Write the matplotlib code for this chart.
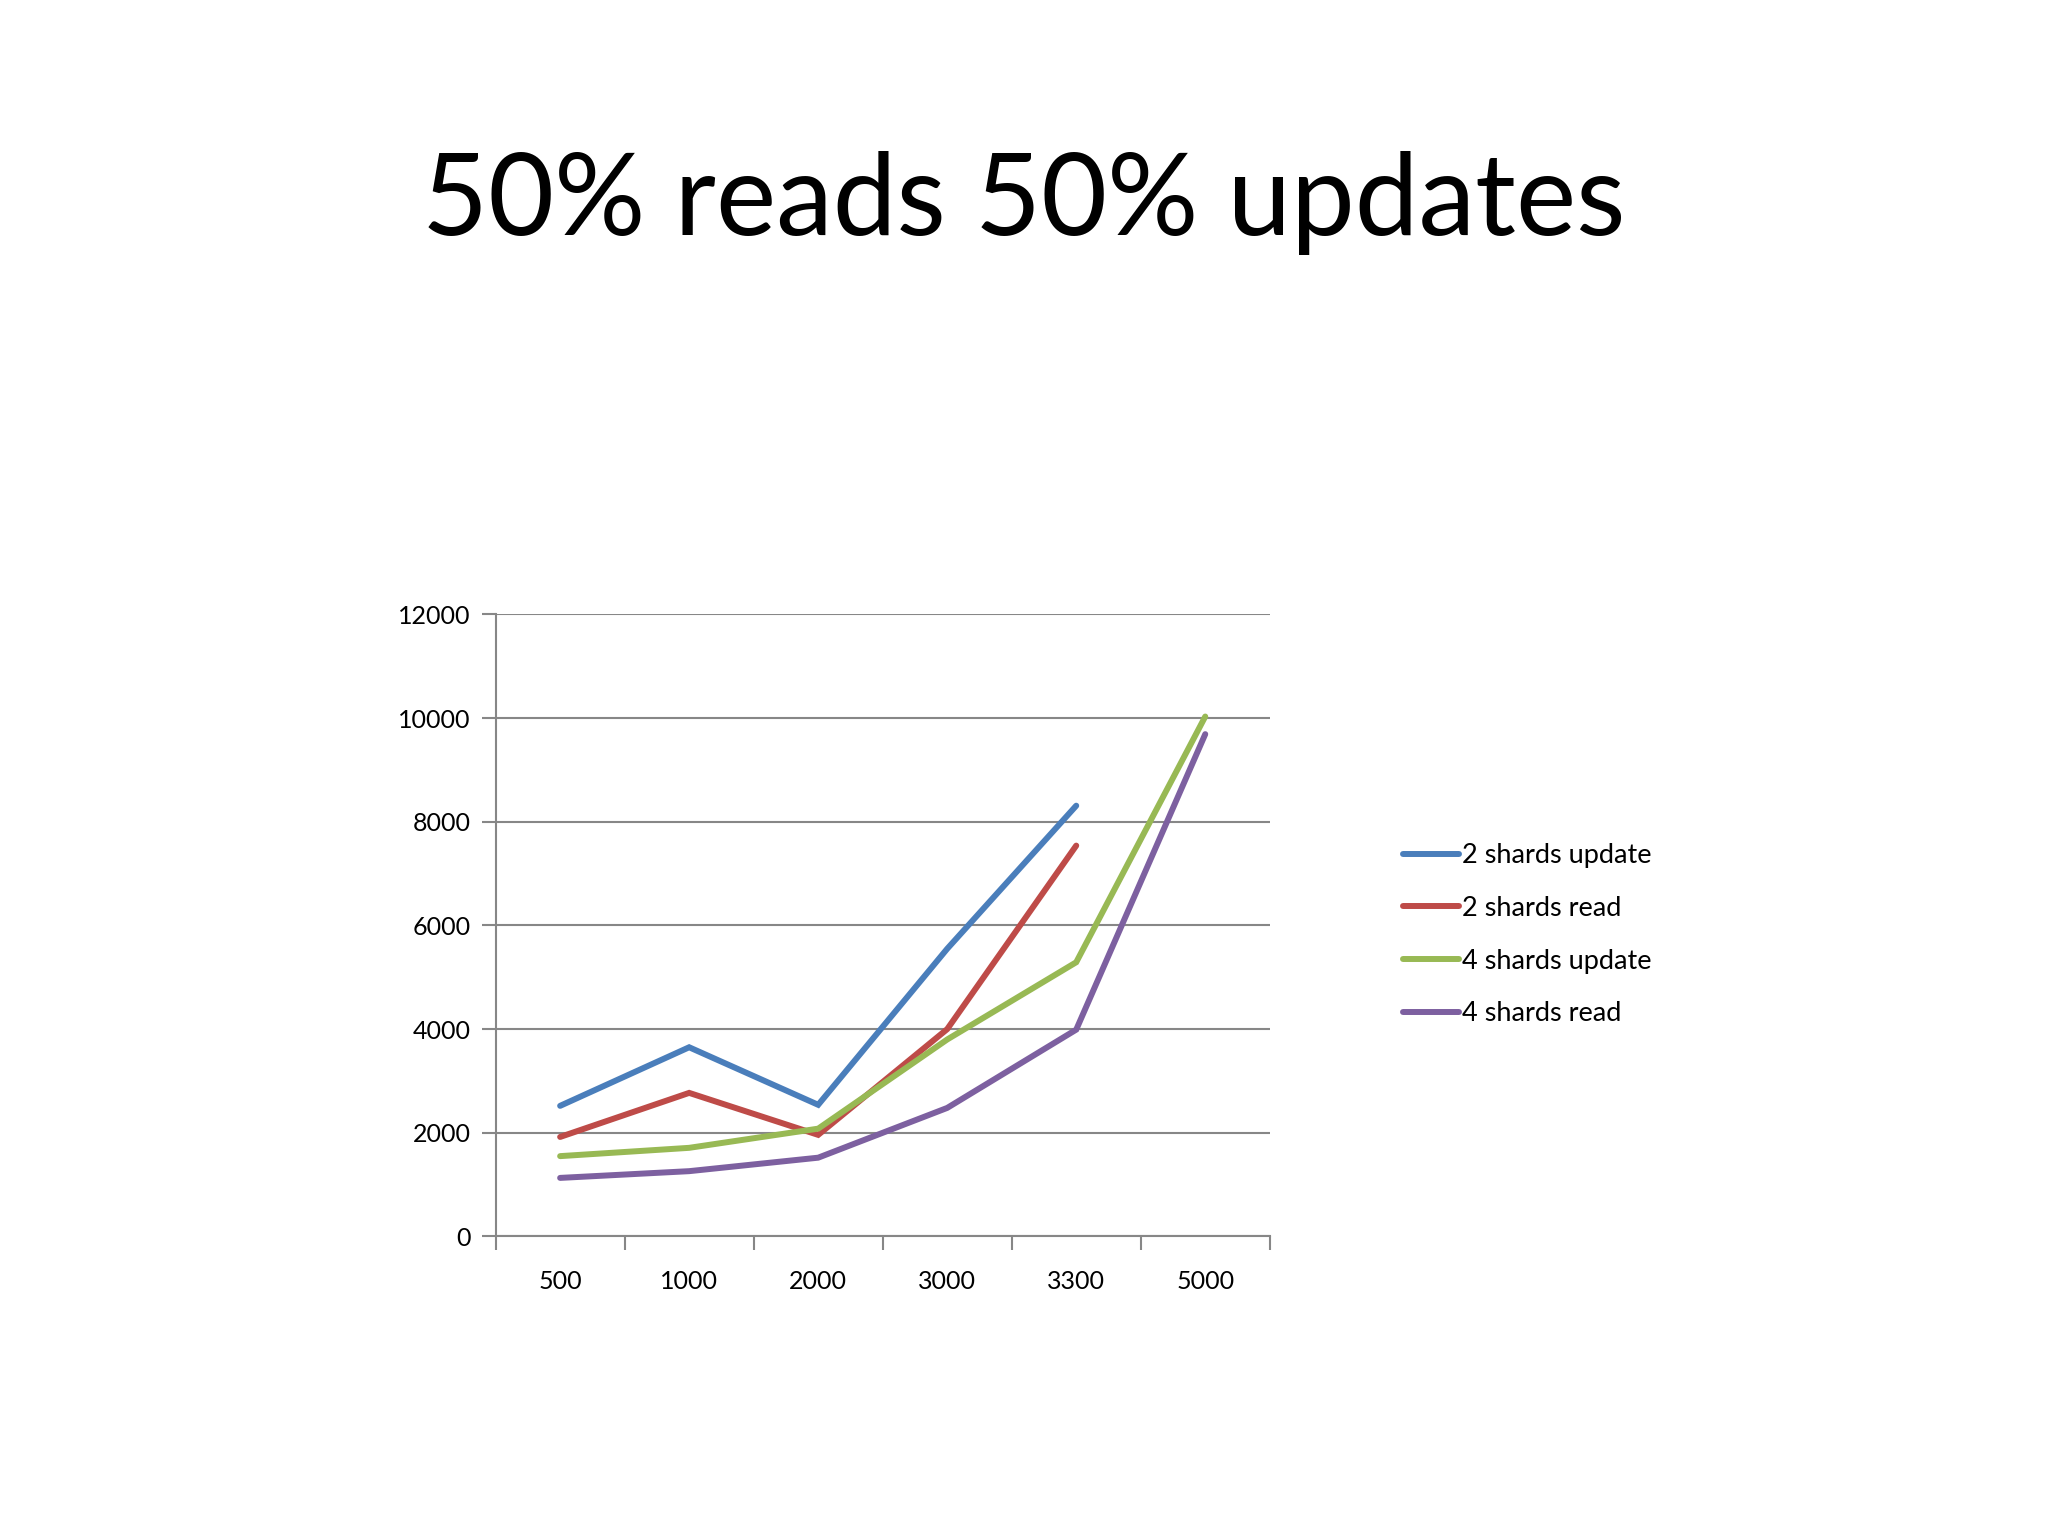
import matplotlib
matplotlib.use("Agg")
import matplotlib.pyplot as plt
import numpy as np

plt.rcParams['font.family'] = ['Lato', 'DejaVu Sans']

categorias = ["500", "1000", "2000", "3000", "3300", "5000"]
shards2_update = [2520, 3650, 2540, 5550, 8310]
shards2_read = [1920, 2770, 1960, 4000, 7540]
shards4_update = [1550, 1710, 2080, 3800, 5290, 10030]
shards4_read = [1130, 1260, 1520, 2480, 3990, 9690]
y_ticks = [0, 2000, 4000, 6000, 8000, 10000, 12000]

series = [
    ("2 shards update", shards2_update, "#4A7EBB"),
    ("2 shards read", shards2_read, "#BE4B48"),
    ("4 shards update", shards4_update, "#98B954"),
    ("4 shards read", shards4_read, "#7D60A0"),
]

fig = plt.figure(figsize=(20.48, 15.36), dpi=100)
fig.text(0.5, 0.868, "50% reads 50% updates", ha="center", va="center",
         fontsize=82, color="black")

ax = fig.add_axes([0.242, 0.195, 0.378, 0.405])
for nome, vals, cor in series:
    ax.plot(np.arange(len(vals)), vals, color=cor, lw=4.3, label=nome,
            solid_capstyle="round", solid_joinstyle="miter")

ax.set_xlim(-0.5, len(categorias) - 0.5)
ax.set_ylim(0, 12000)
ax.set_yticks(y_ticks)
ax.set_yticklabels([str(v) for v in y_ticks], fontsize=18)
ax.set_xticks(np.arange(len(categorias)))
ax.set_xticklabels(categorias, fontsize=18)
ax.set_xticks(np.arange(len(categorias) + 1) - 0.5, minor=True)
ax.tick_params(axis="x", which="major", length=0, pad=24)
ax.tick_params(axis="x", which="minor", length=10, color="#878787", width=1.5, direction="out")
ax.tick_params(axis="y", length=10, color="#878787", width=1.5, pad=8)
ax.grid(axis="y", color="#878787", lw=1.5)
ax.set_axisbelow(True)
for s in ["top", "right"]:
    ax.spines[s].set_visible(False)
for s in ["left", "bottom"]:
    ax.spines[s].set_color("#878787")
    ax.spines[s].set_linewidth(1.5)

ax.legend(loc="center left", bbox_to_anchor=(1.14, 0.485), frameon=False,
          fontsize=19.5, handlelength=2.1, handletextpad=0.1, labelspacing=1.02)

fig.savefig("out.png", dpi=100, facecolor="white")
